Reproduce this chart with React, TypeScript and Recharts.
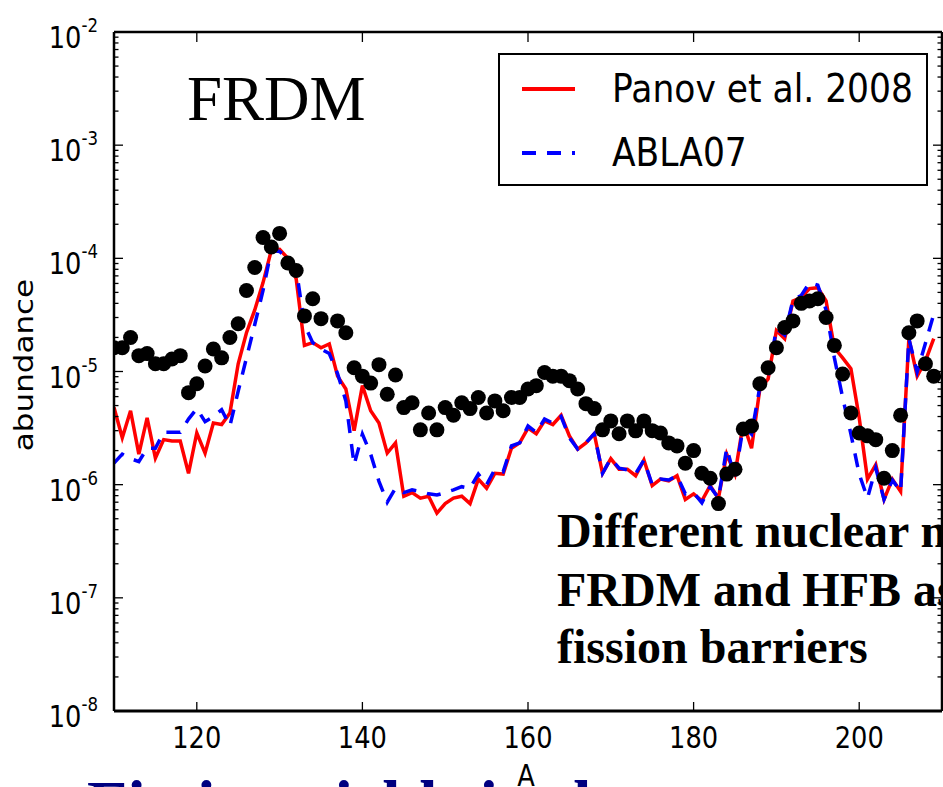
import React from "react";
import {
  ComposedChart,
  Line,
  Scatter,
  XAxis,
  YAxis,
  ReferenceLine,
  Legend,
} from "recharts";

// mass number A
const massNumbers = [
  110, 111, 112, 113, 114, 115, 116, 117, 118, 119,
  120, 121, 122, 123, 124, 125, 126, 127, 128, 129,
  130, 131, 132, 133, 134, 135, 136, 137, 138, 139,
  140, 141, 142, 143, 144, 145, 146, 147, 148, 149,
  150, 151, 152, 153, 154, 155, 156, 157, 158, 159,
  160, 161, 162, 163, 164, 165, 166, 167, 168, 169,
  170, 171, 172, 173, 174, 175, 176, 177, 178, 179,
  180, 181, 182, 183, 184, 185, 186, 187, 188, 189,
  190, 191, 192, 193, 194, 195, 196, 197, 198, 199,
  200, 201, 202, 203, 204, 205, 206, 207, 208, 209,
];

// Panov et al. 2008 (red, solid)
const panovValues = [
  4.8e-6, 2.6e-6, 4.5e-6, 1.86e-6, 3.9e-6, 1.72e-6, 2.5e-6, 2.43e-6, 2.43e-6, 1.26e-6,
  2.86e-6, 1.9e-6, 3.5e-6, 3.4e-6, 4.3e-6, 1.17e-5, 2.2e-5, 3.5e-5, 6.1e-5, 1.18e-4,
  1.2e-4, 1.0e-4, 6.6e-5, 1.7e-5, 1.8e-5, 1.62e-5, 1.75e-5, 9.1e-6, 7.0e-6, 3.0e-6,
  7.5e-6, 4.5e-6, 3.5e-6, 1.9e-6, 2.34e-6, 7.9e-7, 8.5e-7, 7.6e-7, 7.9e-7, 5.6e-7,
  6.8e-7, 7.6e-7, 7.9e-7, 6.8e-7, 1.12e-6, 9.3e-7, 1.26e-6, 1.24e-6, 2.1e-6, 2.34e-6,
  3.16e-6, 2.82e-6, 3.66e-6, 3.4e-6, 4.1e-6, 2.7e-6, 2.06e-6, 2.34e-6, 2.82e-6, 1.26e-6,
  1.7e-6, 1.37e-6, 1.37e-6, 1.2e-6, 1.65e-6, 9.8e-7, 1.12e-6, 1.08e-6, 1.2e-6, 7.4e-7,
  8.3e-7, 7.2e-7, 9.8e-7, 7.6e-7, 1.86e-6, 1.24e-6, 3.5e-6, 2.1e-6, 7.0e-6, 8.6e-6,
  2.3e-5, 1.95e-5, 4.2e-5, 4.5e-5, 5.4e-5, 5.5e-5, 4.2e-5, 1.62e-5, 1.32e-5, 1.06e-5,
  3.9e-6, 1.12e-6, 1.5e-6, 7.4e-7, 1.12e-6, 8.7e-7, 1.95e-5, 9.1e-6, 1.24e-5, 1.95e-5,
];

// ABLA07 (blue, dashed)
const ablaValues = [
  1.55e-6, 1.86e-6, 1.7e-6, 1.6e-6, 2.1e-6, 2.1e-6, 2.9e-6, 2.9e-6, 2.9e-6, 3.8e-6,
  4.7e-6, 3.6e-6, 4.0e-6, 4.6e-6, 3.3e-6, 6.7e-6, 1.32e-5, 2.6e-5, 5.2e-5, 1.18e-4,
  1.15e-4, 1.0e-4, 8.1e-5, 2.6e-5, 1.8e-5, 1.58e-5, 1.44e-5, 9.6e-6, 5.5e-6, 1.5e-6,
  2.8e-6, 1.86e-6, 1.07e-6, 7.0e-7, 9.3e-7, 8.5e-7, 9.0e-7, 8.7e-7, 8.3e-7, 8.1e-7,
  8.5e-7, 9.0e-7, 9.6e-7, 9.3e-7, 1.24e-6, 1.0e-6, 1.37e-6, 1.3e-6, 2.2e-6, 2.34e-6,
  3.3e-6, 2.9e-6, 3.8e-6, 3.5e-6, 4.0e-6, 2.6e-6, 2.06e-6, 2.34e-6, 2.82e-6, 1.26e-6,
  1.7e-6, 1.4e-6, 1.35e-6, 1.25e-6, 1.65e-6, 1.0e-6, 1.12e-6, 1.1e-6, 1.2e-6, 8.3e-7,
  8.5e-7, 6.9e-7, 9.6e-7, 7.6e-7, 2.1e-6, 1.15e-6, 3.3e-6, 2.8e-6, 7.3e-6, 8.9e-6,
  2.4e-5, 2.1e-5, 4.3e-5, 4.7e-5, 6.1e-5, 5.8e-5, 3.5e-5, 1.32e-5, 5.9e-6, 2.8e-6,
  1.24e-6, 7.6e-7, 1.4e-6, 7.4e-7, 1.1e-6, 8.7e-7, 1.95e-5, 9.9e-6, 1.78e-5, 3.2e-5,
];

// solar r-process abundances (black dots)
const observedValues = [
  1.62e-5, 1.62e-5, 2.0e-5, 1.38e-5, 1.44e-5, 1.17e-5, 1.17e-5, 1.29e-5, 1.38e-5, 6.5e-6,
  7.8e-6, 1.12e-5, 1.58e-5, 1.32e-5, 2.0e-5, 2.64e-5, 5.2e-5, 8.3e-5, 1.53e-4, 1.26e-4,
  1.66e-4, 9.1e-5, 7.8e-5, 3.1e-5, 4.4e-5, 2.93e-5, null, 2.8e-5, 2.2e-5, 1.08e-5,
  9.1e-6, 7.9e-6, 1.15e-5, 6.3e-6, 9.3e-6, 4.8e-6, 5.3e-6, 3.05e-6, 4.3e-6, 3.05e-6,
  4.8e-6, 4.1e-6, 5.3e-6, 4.7e-6, 5.9e-6, 4.3e-6, 5.5e-6, 4.5e-6, 5.9e-6, 5.9e-6,
  7.0e-6, 7.5e-6, 9.8e-6, 9.1e-6, 9.1e-6, 8.3e-6, 7.0e-6, 5.2e-6, 4.7e-6, 3.05e-6,
  3.66e-6, 2.82e-6, 3.66e-6, 2.99e-6, 3.66e-6, 3.0e-6, 2.86e-6, 2.34e-6, 2.2e-6, 1.55e-6,
  2.0e-6, 1.26e-6, 1.14e-6, 6.8e-7, 1.24e-6, 1.37e-6, 3.1e-6, 3.3e-6, 7.8e-6, 1.08e-5,
  1.62e-5, 2.45e-5, 2.8e-5, 4.0e-5, 4.2e-5, 4.4e-5, 3.0e-5, 1.7e-5, 9.5e-6, 4.3e-6,
  2.86e-6, 2.7e-6, 2.5e-6, 1.14e-6, 2.0e-6, 4.1e-6, 2.2e-5, 2.8e-5, 1.17e-5, 9.1e-6,
];

const seriesNames = ["Panov et al. 2008", "ABLA07"];
const xTicks = [120, 140, 160, 180, 200];
const decadeTicks = [1e-8, 1e-7, 1e-6, 1e-5, 1e-4, 1e-3, 1e-2];
const minorSteps = [2, 3, 4, 5, 6, 7, 8, 9];

const chartData = massNumbers.map((A, i) => ({
  A,
  panov: panovValues[i],
  abla: ablaValues[i],
  obs: observedValues[i],
}));
const obsData = chartData.filter((d) => d.obs != null);

const yTicks = decadeTicks.flatMap((d, i) =>
  i < decadeTicks.length - 1 ? [d, ...minorSteps.map((m) => m * d)] : [d]
);

// layout
const W = 943;
const H = 787;
const PLOT_LEFT = 114;
const PLOT_RIGHT = 942;
const PLOT_TOP = 32;
const PLOT_BOTTOM = 711;
const SQUASH = 0.83;
const DASH = "14 11";

function XTick(props: any) {
  const { x, payload } = props;
  return (
    <g>
      <line x1={x} x2={x} y1={PLOT_BOTTOM} y2={PLOT_BOTTOM - 9} stroke="#000" strokeWidth={1.3} />
      <line x1={x} x2={x} y1={PLOT_TOP} y2={PLOT_TOP + 10} stroke="#000" strokeWidth={1.3} />
      <text
        transform={`translate(${x},${PLOT_BOTTOM + 37}) scale(${SQUASH},1)`}
        textAnchor="middle"
        fontFamily="DejaVu Sans"
        fontSize={31}
        fill="#000"
      >
        {payload.value}
      </text>
    </g>
  );
}

function YTick(props: any) {
  const { y, payload } = props;
  const lg = Math.log10(payload.value);
  const exp = Math.round(lg);
  const major = Math.abs(lg - exp) < 1e-6;
  const len = major ? 9 : 4.5;
  return (
    <g>
      <line x1={PLOT_LEFT} x2={PLOT_LEFT + len} y1={y} y2={y} stroke="#000" strokeWidth={1.3} />
      <line x1={PLOT_RIGHT} x2={PLOT_RIGHT - len} y1={y} y2={y} stroke="#000" strokeWidth={1.3} />
      {major && (
        <text
          transform={`translate(${PLOT_LEFT - 16},${y}) scale(${SQUASH},1)`}
          textAnchor="end"
          fontFamily="DejaVu Sans"
          fill="#000"
        >
          <tspan fontSize={31} dy={16}>10</tspan>
          <tspan fontSize={20} dy={-16}>{String(exp)}</tspan>
        </text>
      )}
    </g>
  );
}

function LegendBox(props: any) {
  const items = (props.payload || [])
    .filter((p: any) => p.type !== "none")
    .sort((a: any, b: any) => seriesNames.indexOf(a.value) - seriesNames.indexOf(b.value));
  return (
    <svg width={430} height={133}>
      <rect x={1} y={1} width={428} height={131} fill="#fff" stroke="#000" strokeWidth={2} />
      {items.map((p: any, i: number) => (
        <g key={p.value}>
          <line
            x1={24}
            x2={77}
            y1={36 + 64 * i}
            y2={36 + 64 * i}
            stroke={p.color}
            strokeWidth={4}
            strokeDasharray={p.payload?.strokeDasharray}
          />
          <text
            transform={`translate(114,${49 + 64 * i}) scale(0.885,1)`}
            fontFamily="DejaVu Sans"
            fontSize={39}
            fill="#000"
          >
            {p.value}
          </text>
        </g>
      ))}
    </svg>
  );
}

export default function App() {
  return (
    <div
      style={{
        position: "fixed",
        left: 0,
        top: 0,
        width: W,
        height: H,
        overflow: "hidden",
        background: "#fff",
      }}
    >
      <ComposedChart
        width={W}
        height={H}
        data={chartData}
        margin={{ top: PLOT_TOP, right: W - PLOT_RIGHT, bottom: 0, left: 0 }}
      >
        <XAxis
          dataKey="A"
          type="number"
          domain={[110, 210]}
          ticks={xTicks}
          interval={0}
          tick={<XTick />}
          tickLine={false}
          axisLine={{ stroke: "#000", strokeWidth: 3 }}
          height={H - PLOT_BOTTOM}
          allowDataOverflow
        />
        <YAxis
          type="number"
          scale="log"
          domain={[1e-8, 1e-2]}
          ticks={yTicks}
          interval={0}
          tick={<YTick />}
          tickLine={false}
          axisLine={{ stroke: "#000", strokeWidth: 2.5 }}
          width={PLOT_LEFT}
          allowDataOverflow
        />
        <ReferenceLine y={1e-2} stroke="#000" strokeWidth={2.5} ifOverflow="visible" />
        <ReferenceLine x={210} stroke="#000" strokeWidth={2.5} ifOverflow="visible" />
        <Line
          name={seriesNames[0]}
          dataKey="panov"
          type="linear"
          stroke="#ff0000"
          strokeWidth={3.5}
          dot={false}
          isAnimationActive={false}
        />
        <Line
          name={seriesNames[1]}
          dataKey="abla"
          type="linear"
          stroke="#0000ff"
          strokeWidth={3.5}
          strokeDasharray={DASH}
          dot={false}
          isAnimationActive={false}
        />
        <Scatter
          data={obsData}
          dataKey="obs"
          legendType="none"
          isAnimationActive={false}
          shape={(p: any) => <circle cx={p.cx} cy={p.cy} r={7.5} fill="#000" />}
        />
        <Legend
          layout="horizontal"
          verticalAlign="middle"
          align="center"
          content={<LegendBox />}
          wrapperStyle={{ left: 498, top: 53, width: 430, height: 133 }}
        />
      </ComposedChart>

      <svg
        width={W}
        height={H}
        style={{ position: "absolute", left: 0, top: 0, pointerEvents: "none" }}
      >
        <text
          x={87}
          y={826}
          fontFamily="Liberation Serif"
          fontWeight="bold"
          fontSize={66}
          fill="#000080"
        >
          Fission yields in the r-process
        </text>
        <text
          transform={`translate(33,365) scale(${SQUASH},1) rotate(-90)`}
          textAnchor="middle"
          fontFamily="DejaVu Sans"
          fontSize={31}
          fill="#000"
        >
          abundance
        </text>
        <text
          transform={`translate(526,786) scale(${SQUASH},1)`}
          textAnchor="middle"
          fontFamily="DejaVu Sans"
          fontSize={31}
          fill="#000"
        >
          A
        </text>
        <text x={187} y={120} fontFamily="Liberation Serif" fontSize={63} fill="#000">
          FRDM
        </text>
        <g fontFamily="Liberation Serif" fontWeight="bold" fontSize={48} fill="#000">
          <text x={557} y={547}>Different nuclear mass models</text>
          <text x={557} y={606}>FRDM and HFB as well as</text>
          <text x={557} y={663}>fission barriers</text>
        </g>
      </svg>
    </div>
  );
}
